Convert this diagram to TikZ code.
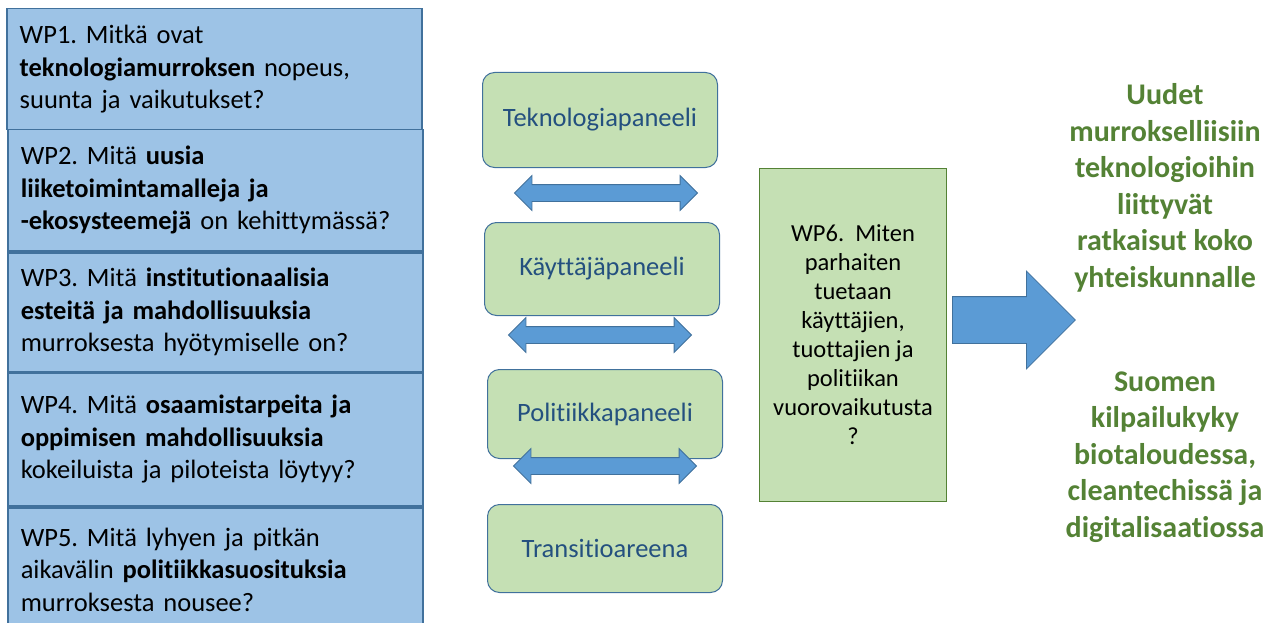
\documentclass[tikz,border=0pt]{standalone}
\usepackage{fontspec}
\setmainfont{Carlito}[Ligatures={NoCommon}]
\usetikzlibrary{shapes.arrows}
\frenchspacing
\definecolor{wpfill}{HTML}{9DC3E6}
\definecolor{wpline}{HTML}{41719C}
\definecolor{pfill}{HTML}{C5E0B4}
\definecolor{ptext}{HTML}{24507F}
\definecolor{arrfill}{HTML}{5B9BD5}
\definecolor{gline}{HTML}{548235}
\definecolor{gtext}{HTML}{548235}
\tikzset{
  wpbox/.style={draw=wpline, line width=1.5pt, fill=wpfill, anchor=north west,
    minimum width=415pt, inner xsep=13pt, text width=389pt, align=left,
    font=\fontsize{26.5}{32.5}\selectfont, text=black},
  panel/.style={draw=wpline, line width=1pt, fill=pfill, rounded corners=12pt,
    minimum width=235pt, anchor=north west, text=ptext,
    font=\fontsize{26.5}{30}\selectfont},
  darrow/.style={double arrow, draw=wpline, line width=0.8pt, fill=arrfill,
    minimum height=183pt, double arrow head extend=9pt,
    inner xsep=0pt, inner ysep=8pt},
  result/.style={text=gtext, align=center, font=\bfseries\fontsize{30}{36.5}\selectfont}
}
\begin{document}
\begin{tikzpicture}[x=1pt,y=-1pt]
\useasboundingbox (0,0) rectangle (1274,623);
\clip (0,0) rectangle (1274,623);
\fill[white] (0,0) rectangle (1274,623);
% left WP boxes
\node[wpbox, minimum height=121pt] (wp1) at (6,8) {WP1. Mitkä ovat\\\textbf{teknologiamurroksen} nopeus,\\suunta ja vaikutukset?};
\node[wpbox, minimum height=121pt] (wp2) at (7,129) {WP2. Mitä \textbf{uusia}\\\textbf{liiketoimintamalleja ja}\\\textbf{-ekosysteemejä} on kehittymässä?};
\node[wpbox, minimum height=119pt] (wp3) at (7,252) {WP3. Mitä \textbf{institutionaalisia}\\\textbf{esteitä ja mahdollisuuksia}\\murroksesta hyötymiselle on?};
\node[wpbox, minimum height=133pt] (wp4) at (7,372) {WP4. Mitä \textbf{osaamistarpeita ja}\\\textbf{oppimisen mahdollisuuksia}\\kokeiluista ja piloteista löytyy?};
\node[wpbox, minimum height=124pt] (wp5) at (7,507) {WP5. Mitä lyhyen ja pitkän\\aikavälin \textbf{politiikkasuosituksia}\\murroksesta nousee?};
% panels
\node[panel, minimum height=95pt] (tek) at (482,72) {Teknologiapaneeli};
\node[panel, minimum height=93pt] (kay) at (484,222) {Käyttäjäpaneeli};
\node[panel, minimum height=89pt] (pol) at (487,369) {Politiikkapaneeli};
\node[panel, minimum height=88pt] (tra) at (487,504) {Transitioareena};
% double arrows
\node[darrow] (a1) at (606,193) {};
\node[darrow] (a2) at (600,335) {};
\node[darrow] (a3) at (605,466) {};
% WP6
\node[draw=gline, line width=1pt, fill=pfill, minimum width=187pt, minimum height=333pt,
  anchor=north west, align=center, font=\fontsize{24.5}{29}\selectfont] (wp6) at (759,168)
  {WP6.\ \ Miten\\parhaiten\\tuetaan\\käyttäjien,\\tuottajien ja\\politiikan\\vuorovaikutusta\\?};
% big arrow
\node[single arrow, draw=wpline, line width=0.8pt, fill=arrfill, minimum height=123pt,
  single arrow head extend=25.5pt, inner xsep=0pt, inner ysep=23pt, anchor=tail] (big) at (952,320) {};
% results
\node[result] (r1) at (1165,188) {Uudet\\murrokselliisiin\\teknologioihin\\liittyvät\\ratkaisut koko\\yhteiskunnalle};
\node[result] (r2) at (1165,457) {Suomen\\kilpailukyky\\biotaloudessa,\\cleantechissä ja\\digitalisaatiossa};
\end{tikzpicture}
\end{document}
